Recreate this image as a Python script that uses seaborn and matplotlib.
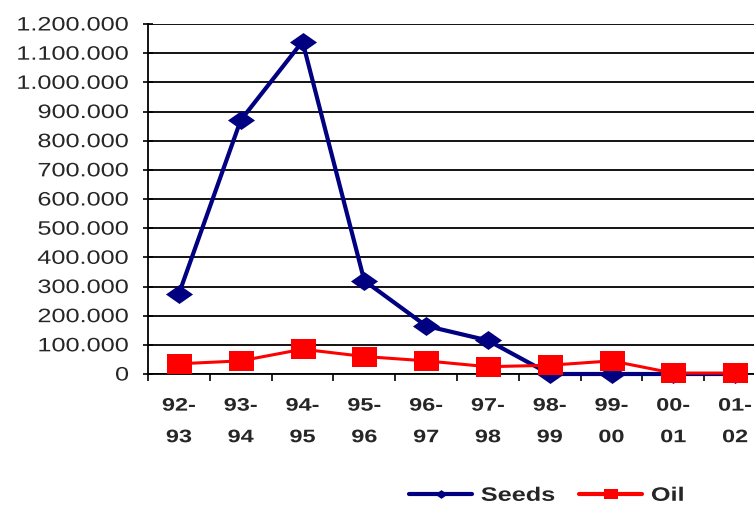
import numpy as np
import pandas as pd
import matplotlib
matplotlib.use("Agg")
import matplotlib.pyplot as plt
import seaborn as sns
from matplotlib.patheffects import AbstractPathEffect
from matplotlib.transforms import Affine2D
from matplotlib.path import Path
from matplotlib.lines import Line2D
from matplotlib.ticker import FixedLocator, NullFormatter

# Marketing seasons and yearly volumes
seasons = ["92-\n93", "93-\n94", "94-\n95", "95-\n96", "96-\n97",
           "97-\n98", "98-\n99", "99-\n00", "00-\n01", "01-\n02"]
seeds = [275000, 870000, 1140000, 320000, 165000, 115000, 0, 0, 0, 0]
oil = [35000, 45000, 85000, 60000, 45000, 25000, 30000, 45000, 3000, 3000]
y_ticks = [0, 100000, 200000, 300000, 400000, 500000, 600000,
           700000, 800000, 900000, 1000000, 1100000, 1200000]
y_tick_labels = [f"{v:,}".replace(",", ".") for v in y_ticks]

NAVY = "#000080"
RED = "#FF0000"


class HStretch(AbstractPathEffect):
    """Widen glyphs horizontally, keeping one edge (or the centre) fixed."""

    def __init__(self, sx=1.3, anchor="center"):
        super().__init__()
        self.sx = sx
        self.anchor = anchor

    def draw_path(self, renderer, gc, tpath, affine, rgbFace=None):
        ext = tpath.get_extents()
        if self.anchor == "right":
            x0 = ext.x1
        elif self.anchor == "left":
            x0 = ext.x0
        else:
            x0 = 0.5 * (ext.x0 + ext.x1)
        t = Affine2D().translate(-x0, 0).scale(self.sx, 1.0).translate(x0, 0) + affine
        renderer.draw_path(gc, tpath, t, rgbFace)


# wide, flat marker shapes
diamond = Path([(-1.0, 0.0), (0.0, 0.7), (1.0, 0.0), (0.0, -0.7), (-1.0, 0.0)], closed=True)
rect = Path([(-1.0, -0.8), (1.0, -0.8), (1.0, 0.8), (-1.0, 0.8), (-1.0, -0.8)], closed=True)

sns.set_style("white")
plt.rcParams["font.family"] = ["Liberation Sans", "DejaVu Sans"]

fig = plt.figure(figsize=(7.54, 5.07), dpi=100)
ax = fig.add_axes([148 / 754, 1 - 374 / 507, 618 / 754, 350 / 507])

pos = np.arange(len(seasons))
df = pd.DataFrame({"pos": np.concatenate([pos, pos]),
                   "value": seeds + oil,
                   "series": ["Seeds"] * len(seeds) + ["Oil"] * len(oil)})

sns.lineplot(data=df[df.series == "Seeds"], x="pos", y="value", color=NAVY,
             lw=3.0, marker=diamond, ms=19.5, mec=NAVY, mew=0, ax=ax,
             legend=False, zorder=3, clip_on=False)
sns.lineplot(data=df[df.series == "Oil"], x="pos", y="value", color=RED,
             lw=2.2, marker=rect, ms=18, mec=RED, mew=0, ax=ax,
             legend=False, zorder=4, clip_on=False)

ax.set_xlim(-0.5, len(seasons) - 0.5)
ax.set_ylim(0, 1200000)
ax.set_xlabel("")
ax.set_ylabel("")

# y axis
ax.yaxis.set_major_locator(FixedLocator(y_ticks))
ax.set_yticklabels(y_tick_labels)
ax.tick_params(axis="y", which="major", direction="inout", length=7.5, width=1.2,
               color="black", labelsize=14, pad=10, left=True)
ax.grid(axis="y", color="black", lw=1.3)
ax.grid(axis="x", visible=False)
ax.set_axisbelow(True)

# x axis: boundary ticks, labels centred on each season
ax.xaxis.set_major_locator(FixedLocator(np.arange(-0.5, len(seasons), 1.0)))
ax.xaxis.set_major_formatter(NullFormatter())
ax.xaxis.set_minor_locator(FixedLocator(pos))
ax.set_xticklabels(seasons, minor=True)
ax.tick_params(axis="x", which="major", direction="out", length=5, width=1.2,
               color="black", bottom=True)
ax.tick_params(axis="x", which="minor", length=0, pad=17, labelsize=13, bottom=True)
for lab in ax.get_xticklabels(minor=True):
    lab.set_fontweight("bold")
    lab.set_linespacing(2.12)
    lab.set_path_effects([HStretch(1.3, "center")])
for lab in ax.get_yticklabels():
    lab.set_path_effects([HStretch(1.3, "right")])

for side in ("top", "right"):
    ax.spines[side].set_visible(False)
for side in ("left", "bottom"):
    ax.spines[side].set_color("black")
    ax.spines[side].set_linewidth(1.3)

handles = [Line2D([], [], color=NAVY, lw=3.0, marker=diamond, ms=9, mew=0),
           Line2D([], [], color=RED, lw=3.0, marker=rect, ms=9.5, mew=0)]
leg = fig.legend(handles, ["Seeds", "Oil"], loc="center",
                 bbox_to_anchor=(543 / 754, 1 - 496 / 507), ncol=2, frameon=False,
                 prop={"weight": "bold", "size": 14}, handlelength=3.25,
                 handletextpad=0.45, columnspacing=2.1, borderpad=0)
for t in leg.get_texts():
    t.set_path_effects([HStretch(1.3, "left")])

fig.savefig("out.png", dpi=100)
